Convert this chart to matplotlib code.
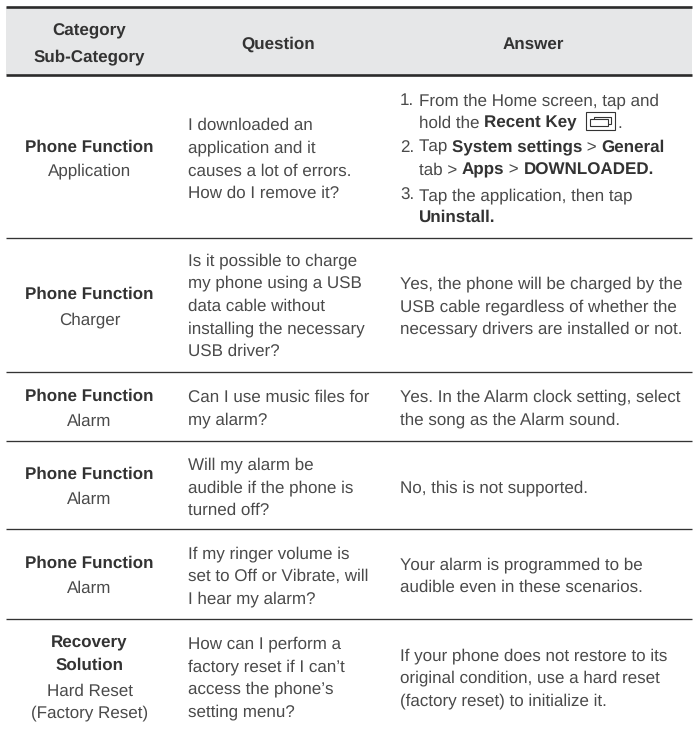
import re
import matplotlib
matplotlib.use("Agg")
import matplotlib.pyplot as plt
from matplotlib.patches import Rectangle

plt.rcParams["text.hinting"] = "none"
plt.rcParams["text.hinting_factor"] = 1

# ---- content ----
header_category = ["Category", "Sub-Category"]
header_question = ["Question"]
header_answer = ["Answer"]

categories = [
    [("Phone Function", True), ("Application", False)],
    [("Phone Function", True), ("Charger", False)],
    [("Phone Function", True), ("Alarm", False)],
    [("Phone Function", True), ("Alarm", False)],
    [("Phone Function", True), ("Alarm", False)],
    [("Recovery", True), ("Solution", True), ("Hard Reset", False), ("(Factory Reset)", False)],
]
questions = [
    ["I downloaded an", "application and it", "causes a lot of errors.", "How do I remove it?"],
    ["Is it possible to charge", "my phone using a USB", "data cable without", "installing the necessary", "USB driver?"],
    ["Can I use music files for", "my alarm?"],
    ["Will my alarm be", "audible if the phone is", "turned off?"],
    ["If my ringer volume is", "set to Off or Vibrate, will", "I hear my alarm?"],
    ["How can I perform a", "factory reset if I can\u2019t", "access the phone\u2019s", "setting menu?"],
]
answer_steps = [
    ("1.", "From the Home screen, tap and"),
    ("", "hold the **Recent Key**"),
    ("2.", "Tap **System settings** > **General**"),
    ("", "tab > **Apps** > **DOWNLOADED.**"),
    ("3.", "Tap the application, then tap"),
    ("", "**Uninstall.**"),
]
answers = [
    ["Yes, the phone will be charged by the", "USB cable regardless of whether the", "necessary drivers are installed or not."],
    ["Yes. In the Alarm clock setting, select", "the song as the Alarm sound."],
    ["No, this is not supported."],
    ["Your alarm is programmed to be", "audible even in these scenarios."],
    ["If your phone does not restore to its", "original condition, use a hard reset", "(factory reset) to initialize it."],
]

# ---- layout (pixels) ----
W, H = 698, 730
FS = 11.9
BFS = 11.9
FONT = "Liberation Sans"
REG = "#4a4a4a"
BLD = "#333333"
HDR_BG = "#e6e7e8"
LEFT, RIGHT = 6, 692
RULES_THICK = [7, 75]
RULES = [238, 372, 440.5, 529.3, 618.5]
CAT_X, Q_X, NUM_X, A_X, ATXT_X = 89.5, 188, 400, 400, 419
Q_HDR_X, A_HDR_X = 278, 533
CAT_Y = [[151.5, 175.5], [299, 324], [400.7, 425.7], [479, 504], [567.7, 592.7],
         [647.3, 670, 695.7, 717.7]]
Q_Y = [130, 265, 401.7, 469.3, 558.3, 648.3]
A_STEP_Y = [105, 127.5, 151.7, 174.5, 200, 222]
A_Y = [288.3, 401.7, 492.3, 569.3, 660]
LH = 22.7

fig = plt.figure(figsize=(W / 100, H / 100), dpi=100, facecolor="white")
ax = fig.add_axes([0, 0, 1, 1])
ax.set_xlim(0, W)
ax.set_ylim(H, 0)
ax.axis("off")

ax.add_patch(Rectangle((LEFT, RULES_THICK[0]), RIGHT - LEFT, RULES_THICK[1] - RULES_THICK[0],
                       fc=HDR_BG, ec="none", zorder=0))
for y in RULES_THICK:
    ax.plot([LEFT, RIGHT], [y, y], color="#2b2b2b", lw=1.9, solid_capstyle="butt", zorder=2)
for y in RULES:
    ax.plot([LEFT, RIGHT], [y, y], color="#333333", lw=0.95, solid_capstyle="butt", zorder=2)


def put(x, y, s, bold=False, ha="left", color=None):
    return ax.text(x, y, s, ha=ha, va="baseline", fontsize=BFS if bold else FS, family=FONT,
                   fontweight="bold" if bold else "normal",
                   color=color or (BLD if bold else REG))


renderer = fig.canvas.get_renderer()


def adv(s, bold=False):
    a = put(0, 0, s + "|", bold=bold)
    b = put(0, 0, "|", bold=bold)
    w = a.get_window_extent(renderer).width - b.get_window_extent(renderer).width
    a.remove()
    b.remove()
    return w


def runs(x, y, s):
    for i, part in enumerate(re.split(r"\*\*", s)):
        if part:
            b = i % 2 == 1
            put(x, y, part, bold=b)
            x += adv(part, b)
    return x


# header
put(CAT_X, 35.7, header_category[0], bold=True, ha="center")
put(CAT_X, 61, header_category[1], bold=True, ha="center")
put(Q_HDR_X, 49, header_question[0], bold=True, ha="center")
put(A_HDR_X, 49, header_answer[0], bold=True, ha="center")

# categories
for lines, ys in zip(categories, CAT_Y):
    for (s, b), y in zip(lines, ys):
        put(CAT_X, y, s, bold=b, ha="center")

# questions
for lines, y0 in zip(questions, Q_Y):
    for i, s in enumerate(lines):
        put(Q_X, y0 + i * LH, s)

# first answer
for (num, s), y in zip(answer_steps, A_STEP_Y):
    if num:
        put(NUM_X, y, num)
    runs(ATXT_X, y, s)

# key icon and full stop
ax.add_patch(Rectangle((586, 111.7), 29, 18.3, fc="white", ec="#333333", lw=0.8, zorder=3))
ax.add_patch(Rectangle((594, 116.5), 17, 7, fc="white", ec="#333333", lw=0.8, zorder=3))
ax.add_patch(Rectangle((590, 119), 18, 7, fc="white", ec="#333333", lw=0.8, zorder=4))
put(617, A_STEP_Y[1], ".")

# other answers
for lines, y0 in zip(answers, A_Y):
    for i, s in enumerate(lines):
        put(A_X, y0 + i * LH, s)

fig.savefig("out.png", dpi=100, facecolor="white")
